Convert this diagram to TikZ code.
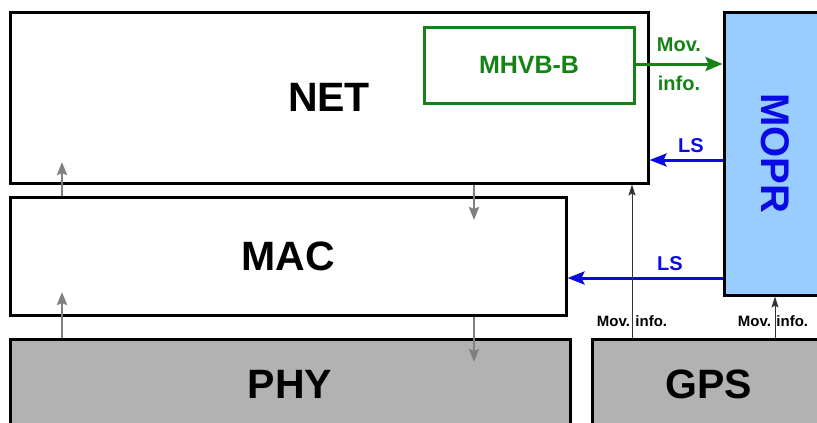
\documentclass[tikz,border=0pt]{standalone}
\usepackage{fontspec}
\setmainfont{Liberation Sans}
\usetikzlibrary{arrows.meta}
\definecolor{mygreen}{HTML}{158215}
\definecolor{myblue}{HTML}{0A0AE6}
\definecolor{moprfill}{HTML}{99CCFF}
\definecolor{layergray}{HTML}{B2B2B2}
\definecolor{arrgray}{HTML}{808080}
\tikzset{
  layer/.style={draw=black, line width=3pt, rectangle, inner sep=0pt, font=\fontsize{41}{41}\selectfont\bfseries},
  grayarr/.style={draw=arrgray, line width=2.8pt, -{Stealth[length=13pt,width=10pt,inset=2pt]}},
  bluearr/.style={draw=myblue, line width=3pt, -{Stealth[length=17pt,width=13pt,inset=3pt]}},
  greenarr/.style={draw=mygreen, line width=3pt, -{Stealth[length=17pt,width=14pt,inset=3pt]}},
  thinarr/.style={draw=black!80, line width=1pt, -{Stealth[length=11pt,width=7pt,inset=2pt]}},
  greenlbl/.style={text=mygreen, font=\fontsize{20}{20}\selectfont\bfseries, inner sep=0pt},
  bluelbl/.style={text=myblue, font=\fontsize{20}{20}\selectfont\bfseries, inner sep=0pt},
  smalllbl/.style={text=black, font=\fontsize{15}{15}\selectfont\bfseries, inner sep=0pt},
}
\begin{document}
\begin{tikzpicture}[x=1pt,y=-1pt]
\useasboundingbox (0,0) rectangle (817,423);
\clip (0,0) rectangle (817,423);
% layers
\node[layer, minimum width=638pt, minimum height=171pt] (NET) at (329,97.5) {NET};
\node[layer, minimum width=556pt, minimum height=118pt] (MAC) at (288,256) {MAC};
\node[layer, fill=layergray, minimum width=560pt, minimum height=90pt] (PHY) at (290,384) {PHY};
\node[layer, fill=layergray, minimum width=234pt, minimum height=90pt] (GPS) at (709,384) {GPS};
\node[layer, fill=moprfill, minimum width=102pt, minimum height=283pt] (MOPR) at (775,153.5) {};
\node[text=myblue, rotate=-90, inner sep=0pt, font=\fontsize{40}{40}\selectfont\bfseries] (moprtext) at (MOPR.center) {MOPR};
\node[draw=mygreen, line width=3pt, rectangle, inner sep=0pt, minimum width=210pt, minimum height=76pt, text=mygreen, font=\fontsize{25}{25}\selectfont\bfseries] (MHVB) at (529,65) {MHVB-B};
% gray inter-layer arrows
\coordinate (g1) at (62,162);
\coordinate (g2) at (474,220);
\coordinate (g3) at (62,292);
\coordinate (g4) at (474,362);
\draw[grayarr] (g1 |- MAC.north) -- (g1);
\draw[grayarr] (g2 |- NET.south) -- (g2);
\draw[grayarr] (g3 |- PHY.north) -- (g3);
\draw[grayarr] (g4 |- MAC.south) -- (g4);
% green arrow
\coordinate (gm) at (0,64);
\draw[greenarr] (gm -| MHVB.east) -- (gm -| MOPR.west);
\node[greenlbl] (mov1) at (679,45) {Mov.};
\node[greenlbl] (info1) at (679,83) {info.};
% blue arrows
\coordinate (b1) at (0,160);
\coordinate (b2) at (0,278);
\draw[bluearr] (b1 -| MOPR.west) -- (b1 -| NET.east);
\draw[bluearr] (b2 -| MOPR.west) -- (b2 -| MAC.east);
\node[bluelbl] (ls1) at (691,146) {LS};
\node[bluelbl] (ls2) at (670,264) {LS};
% GPS movement info
\coordinate (m1) at (632,0);
\coordinate (m2) at (775,0);
\draw[thinarr] (m1 |- GPS.north) -- (m1 |- NET.south);
\draw[thinarr] (m2 |- GPS.north) -- (m2 |- MOPR.south);
\node[smalllbl] (mi1) at (632,321) {Mov. info.};
\node[smalllbl] (mi2) at (773,321) {Mov. info.};
\end{tikzpicture}
\end{document}
